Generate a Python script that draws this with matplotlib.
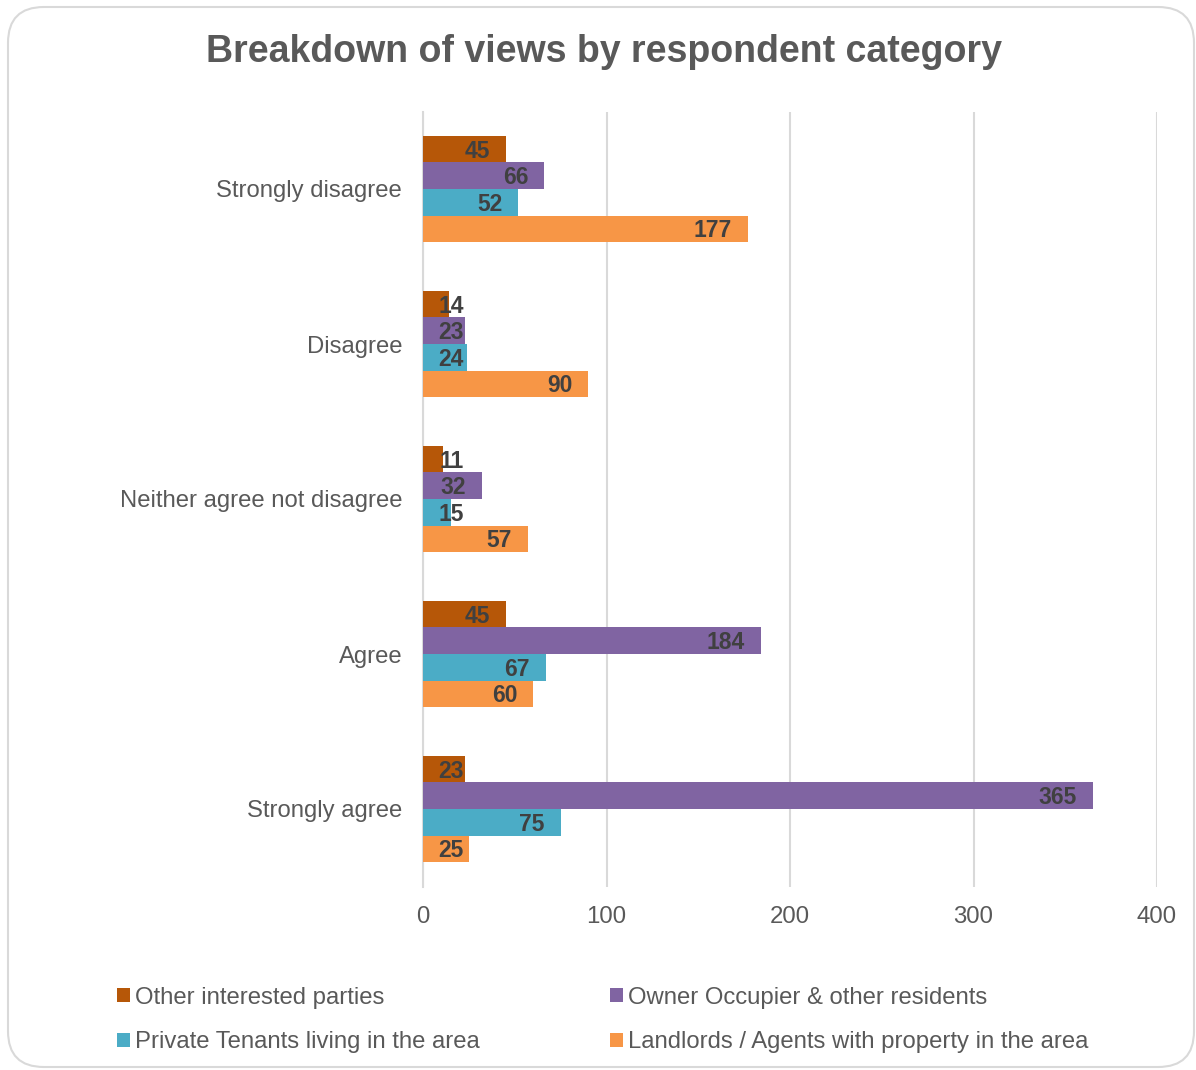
import matplotlib
matplotlib.use("Agg")
import matplotlib.pyplot as plt
from matplotlib.patches import FancyBboxPatch, Patch
import numpy as np

plt.rcParams['font.family'] = ['Liberation Sans', 'DejaVu Sans']

categories = ["Strongly disagree", "Disagree", "Neither agree not disagree", "Agree", "Strongly agree"]
series_names = ["Other interested parties", "Owner Occupier & other residents",
                "Private Tenants living in the area", "Landlords / Agents with property in the area"]
other = [45, 14, 11, 45, 23]
owner = [66, 23, 32, 184, 365]
private = [52, 24, 15, 67, 75]
landlords = [177, 90, 57, 60, 25]
series_values = [other, owner, private, landlords]
colors = ["#B65708", "#8064A2", "#4BACC6", "#F79646"]
x_ticks = [0, 100, 200, 300, 400]

W, H = 1196, 1070
fig = plt.figure(figsize=(W / 100, H / 100), dpi=100)

# rounded border
border = FancyBboxPatch((8 / W, 3 / H), (W - 10) / W, (H - 10) / H,
                        boxstyle="round,pad=0,rounding_size=0.03",
                        transform=fig.transFigure, facecolor="none",
                        edgecolor="#D9D9D9", linewidth=1.5, mutation_aspect=W / H,
                        zorder=-5)
fig.patches.append(border)

ax = fig.add_axes([423 / W, 1 - 886.5 / H, (1157 - 423) / W, (886.5 - 111.5) / H])
ax.set_facecolor("none")

n = len(series_values)
bar_h = 0.171
y = np.arange(len(categories))
for i, (vals, col, name) in enumerate(zip(series_values, colors, series_names)):
    offs = (i - (n - 1) / 2) * bar_h
    ax.barh(y + offs, vals, height=bar_h, color=col, label=name, zorder=3)
    for yy, v in zip(y + offs, vals):
        ax.annotate(str(v), xy=(max(v, 31.0), yy), xytext=(-11.5, -1.3), textcoords="offset points",
                    ha="right", va="center", fontsize=16.5, fontweight="bold",
                    color="#404040", zorder=4)

ax.set_xlim(0, 400)
ax.set_ylim(len(categories) - 0.5, -0.5)
ax.set_xticks(x_ticks)
ax.set_xticklabels([str(t) for t in x_ticks], fontsize=17.3, color="#595959")
ax.set_yticks(y)
ax.set_yticklabels(categories, fontsize=17.2, color="#595959")
ax.tick_params(axis="both", length=0)
ax.tick_params(axis="y", pad=15)
ax.tick_params(axis="x", pad=14)
ax.xaxis.grid(True, color="#D9D9D9", linewidth=1.5, zorder=0)
for s in ["top", "right", "bottom"]:
    ax.spines[s].set_visible(False)
ax.spines["left"].set_color("#D9D9D9")
ax.spines["left"].set_linewidth(1.5)

fig.text(604 / W, 1 - 52 / H, "Breakdown of views by respondent category",
         ha="center", va="center", fontsize=27, fontweight="bold", color="#595959")

order = [0, 2, 1, 3]
handles = [Patch(facecolor=colors[k], edgecolor="none") for k in order]
labels = [series_names[k] for k in order]
leg = fig.legend(handles, labels, loc="center left", ncol=2,
                 bbox_to_anchor=(117 / W, 1 - 1020 / H), frameon=False,
                 fontsize=17.2, handlelength=0.55, handleheight=0.55, handletextpad=0.2,
                 columnspacing=5.45, labelspacing=0.95, borderaxespad=0, borderpad=0)
for t in leg.get_texts():
    t.set_color("#595959")

fig.savefig("out.png", dpi=100)
